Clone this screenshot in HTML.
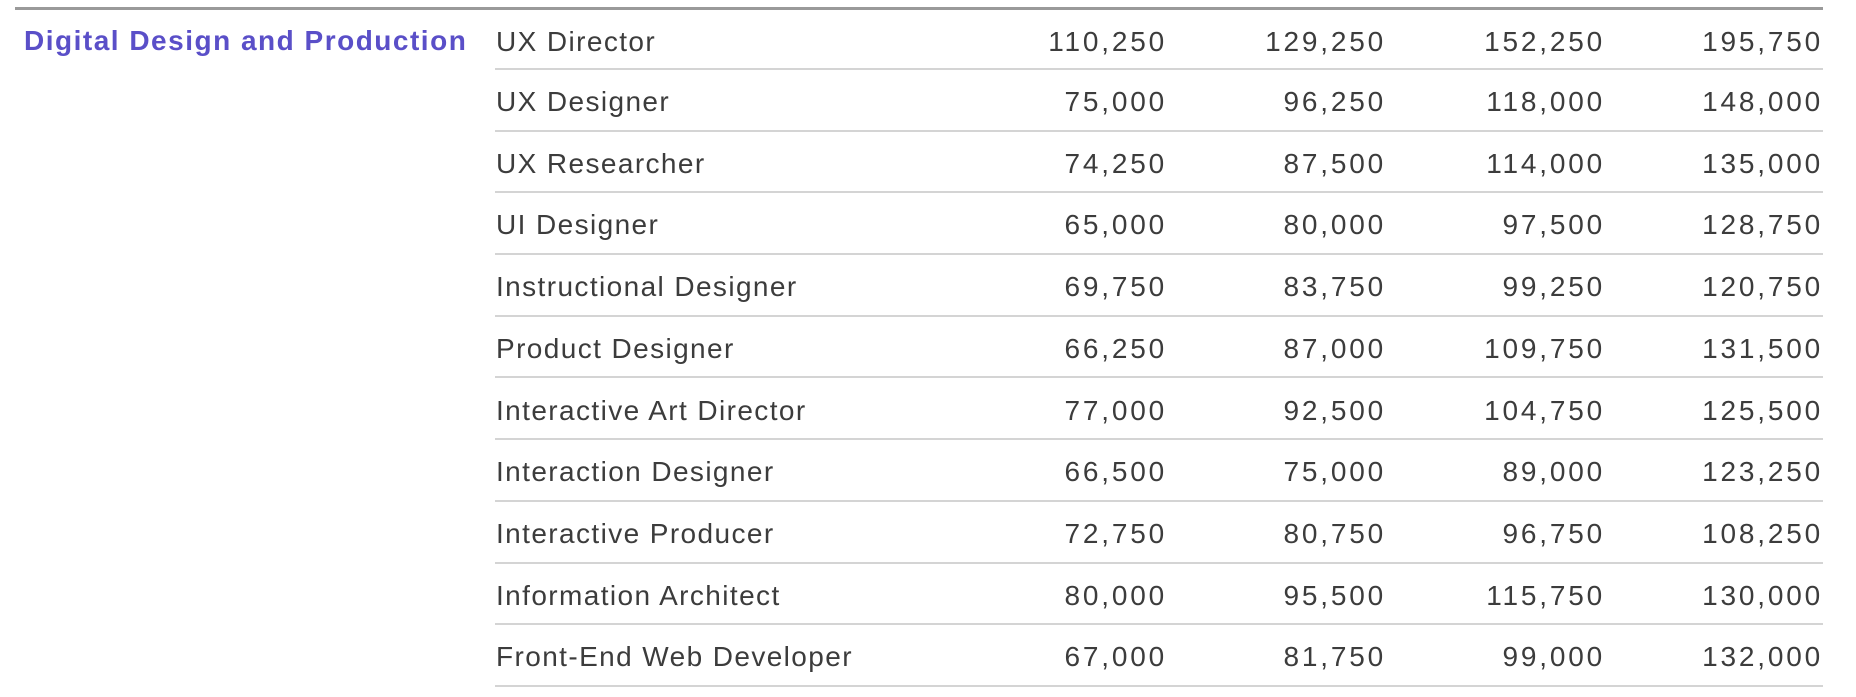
<!DOCTYPE html>
<html><head><meta charset="utf-8"><style>
body{margin:0;background:#fff;width:1856px;height:697px;overflow:hidden;font-family:"Liberation Sans",sans-serif;}
.top{position:absolute;left:15px;top:7px;width:1808px;height:3px;background:#9a9a9a;}
.cat{position:absolute;left:24px;top:10px;height:62px;line-height:62px;font-size:28px;color:#5a4fc8;font-weight:bold;letter-spacing:1.5px;}
.row{position:absolute;left:495px;width:1328px;height:61.7px;border-bottom:2px solid #d4d4d4;box-sizing:border-box;font-size:28px;color:#3c3c3c;}
.row span{position:absolute;top:2px;line-height:60px;letter-spacing:2.8px;}
.row span.l{left:1px;letter-spacing:1.4px;}
.n1{right:656px}.n2{right:437px}.n3{right:218px}.n4{right:0px}
</style></head><body>
<div class="top"></div>
<div class="cat">Digital Design and Production</div>
<div class="row" style="top:10px;height:60px"><span class="l">UX Director</span><span class="n1">110,250</span><span class="n2">129,250</span><span class="n3">152,250</span><span class="n4">195,750</span></div>
<div class="row" style="top:70px"><span class="l">UX Designer</span><span class="n1">75,000</span><span class="n2">96,250</span><span class="n3">118,000</span><span class="n4">148,000</span></div>
<div class="row" style="top:131.7px"><span class="l">UX Researcher</span><span class="n1">74,250</span><span class="n2">87,500</span><span class="n3">114,000</span><span class="n4">135,000</span></div>
<div class="row" style="top:193.4px"><span class="l">UI Designer</span><span class="n1">65,000</span><span class="n2">80,000</span><span class="n3">97,500</span><span class="n4">128,750</span></div>
<div class="row" style="top:255.1px"><span class="l">Instructional Designer</span><span class="n1">69,750</span><span class="n2">83,750</span><span class="n3">99,250</span><span class="n4">120,750</span></div>
<div class="row" style="top:316.8px"><span class="l">Product Designer</span><span class="n1">66,250</span><span class="n2">87,000</span><span class="n3">109,750</span><span class="n4">131,500</span></div>
<div class="row" style="top:378.5px"><span class="l">Interactive Art Director</span><span class="n1">77,000</span><span class="n2">92,500</span><span class="n3">104,750</span><span class="n4">125,500</span></div>
<div class="row" style="top:440.2px"><span class="l">Interaction Designer</span><span class="n1">66,500</span><span class="n2">75,000</span><span class="n3">89,000</span><span class="n4">123,250</span></div>
<div class="row" style="top:501.9px"><span class="l">Interactive Producer</span><span class="n1">72,750</span><span class="n2">80,750</span><span class="n3">96,750</span><span class="n4">108,250</span></div>
<div class="row" style="top:563.6px"><span class="l">Information Architect</span><span class="n1">80,000</span><span class="n2">95,500</span><span class="n3">115,750</span><span class="n4">130,000</span></div>
<div class="row" style="top:625.3px"><span class="l">Front-End Web Developer</span><span class="n1">67,000</span><span class="n2">81,750</span><span class="n3">99,000</span><span class="n4">132,000</span></div>
</body></html>
